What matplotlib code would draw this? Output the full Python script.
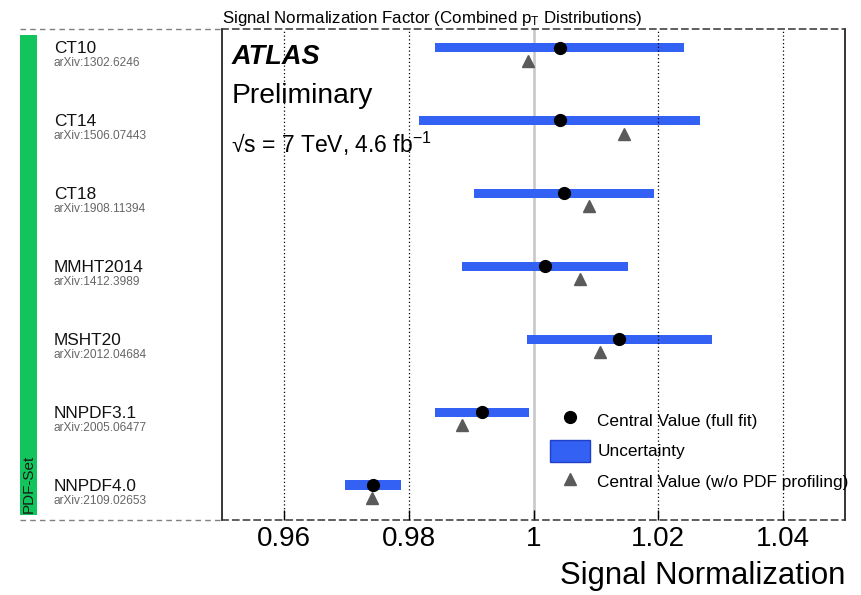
import matplotlib
matplotlib.use("Agg")
import matplotlib.pyplot as plt
from matplotlib.lines import Line2D
from matplotlib.patches import Patch, Rectangle

plt.rcParams["font.family"] = ["Liberation Sans", "DejaVu Sans"]
plt.rcParams["mathtext.fontset"] = "custom"
plt.rcParams["mathtext.rm"] = "Liberation Sans"
plt.rcParams["mathtext.it"] = "Liberation Sans:italic"

PDF_SETS = ["CT10", "CT14", "CT18", "MMHT2014", "MSHT20", "NNPDF3.1", "NNPDF4.0"]
ARXIV_IDS = [
    "arXiv:1302.6246",
    "arXiv:1506.07443",
    "arXiv:1908.11394",
    "arXiv:1412.3989",
    "arXiv:2012.04684",
    "arXiv:2005.06477",
    "arXiv:2109.02653",
]
CENTRAL = [1.0042, 1.0042, 1.0049, 1.0018, 1.0138, 0.9917, 0.9742]
UNC_LOW = [0.9842, 0.9817, 0.9905, 0.9885, 0.9990, 0.9842, 0.9697]
UNC_HIGH = [1.0242, 1.0267, 1.0193, 1.0152, 1.0286, 0.9992, 0.9788]
NO_PROFILING = [0.9991, 1.0145, 1.0089, 1.0075, 1.0106, 0.9886, 0.9741]

XTICKS = [0.96, 0.98, 1.00, 1.02, 1.04]
XTICK_LABELS = ["0.96", "0.98", "1", "1.02", "1.04"]

BAR_BLUE = "#3261f3"
EDGE_BLUE = "#1f3fc8"
GREEN = "#12c45c"
TRI_GREY = "#5a5a5a"

W, H = 861, 595
fig = plt.figure(figsize=(W / 100, H / 100), dpi=100)
ax = fig.add_axes([222 / W, 1 - 520 / H, (845 - 222) / W, (520 - 29.3) / H])

rows = list(range(len(PDF_SETS)))

# reference lines
ax.axvline(1.0, color="#c8c8c8", lw=1.9, zorder=1)
for x in [0.96, 0.98, 1.02, 1.04]:
    ax.axvline(x, color="black", lw=0.9, ls=(0, (1, 2)), zorder=3)

# uncertainty bands, fitted values and unprofiled values
widths = [hi - lo for lo, hi in zip(UNC_LOW, UNC_HIGH)]
ax.barh(rows, widths, left=UNC_LOW, height=0.125, color=BAR_BLUE, zorder=2)
ax.plot(CENTRAL, rows, "o", color="black", ms=8.5, zorder=5)
ax.plot(NO_PROFILING, [r + 0.18 for r in rows], "^", color=TRI_GREY, ms=8, zorder=4)

ax.set_xlim(0.95, 1.05)
ax.set_ylim(6.48, -0.25)
ax.set_yticks([])
ax.set_xticks(XTICKS)
ax.set_xticklabels(XTICK_LABELS, fontsize=20)
ax.tick_params(axis="x", direction="in", length=7.5, width=1.0, pad=4)

for side in ["left", "right"]:
    ax.spines[side].set_linewidth(1.1)
for side in ["top", "bottom"]:
    ax.spines[side].set_linestyle((0, (4, 3)))
    ax.spines[side].set_color("#333333")
    ax.spines[side].set_linewidth(1.1)

ax.set_xlabel("Signal Normalization", fontsize=22.4, loc="right", labelpad=7)

# dashed frame continuing over the label column
for ypix in [29.3, 520]:
    fig.add_artist(Line2D([20 / W, 222 / W], [1 - ypix / H, 1 - ypix / H],
                          color="#808080", lw=1.0, ls=(0, (4, 3))))

# PDF set column
fig.add_artist(Rectangle((20 / W, 1 - 515 / H), 17 / W, (515 - 35) / H,
                         color=GREEN, lw=0))
fig.text(29 / W, 1 - 513 / H, "PDF-Set", rotation=90, fontsize=11,
         ha="center", va="bottom", color="#1a1a1a")

label_x = 54
for r, name, ref in zip(rows, PDF_SETS, ARXIV_IDS):
    ax.annotate(name, xy=(label_x / W, r + 0.08), xycoords=("figure fraction", "data"),
                fontsize=12.4, ha="left", va="baseline", color="#111111",
                annotation_clip=False)
    ax.annotate(ref, xy=(label_x / W, r + 0.26), xycoords=("figure fraction", "data"),
                fontsize=8.6, ha="left", va="baseline", color="#666666",
                annotation_clip=False)

fig.text(222 / W, 1 - 22.7 / H,
         r"Signal Normalization Factor (Combined p$_{\mathrm{T}}$ Distributions)",
         fontsize=12.2, ha="left", va="baseline")

# experiment label
fig.text(232 / W, 1 - 64 / H, "ATLAS", fontsize=19.5, fontweight="bold",
         fontstyle="italic", ha="left", va="baseline")
fig.text(232 / W, 1 - 103 / H, "Preliminary", fontsize=20.3, ha="left", va="baseline")
fig.text(231 / W, 1 - 153 / H, r"√s = 7 TeV, 4.6 fb$^{\mathrm{-1}}$", fontsize=16.5,
         ha="left", va="baseline")

handles = [
    Line2D([], [], marker="o", color="black", ls="none", ms=8.5),
    Patch(facecolor=BAR_BLUE, edgecolor=EDGE_BLUE, lw=1.0),
    Line2D([], [], marker="^", color=TRI_GREY, ls="none", ms=8),
]
labels = ["Central Value (full fit)", "Uncertainty", "Central Value (w/o PDF profiling)"]
ax.legend(handles, labels, loc="upper left",
          bbox_to_anchor=(550 / W, 1 - 409 / H), bbox_transform=fig.transFigure,
          frameon=False, fontsize=12.4, handlelength=2.3, handleheight=1.6,
          handletextpad=0.45, labelspacing=0.5, borderpad=0, borderaxespad=0)

fig.savefig("out.png", dpi=100)
